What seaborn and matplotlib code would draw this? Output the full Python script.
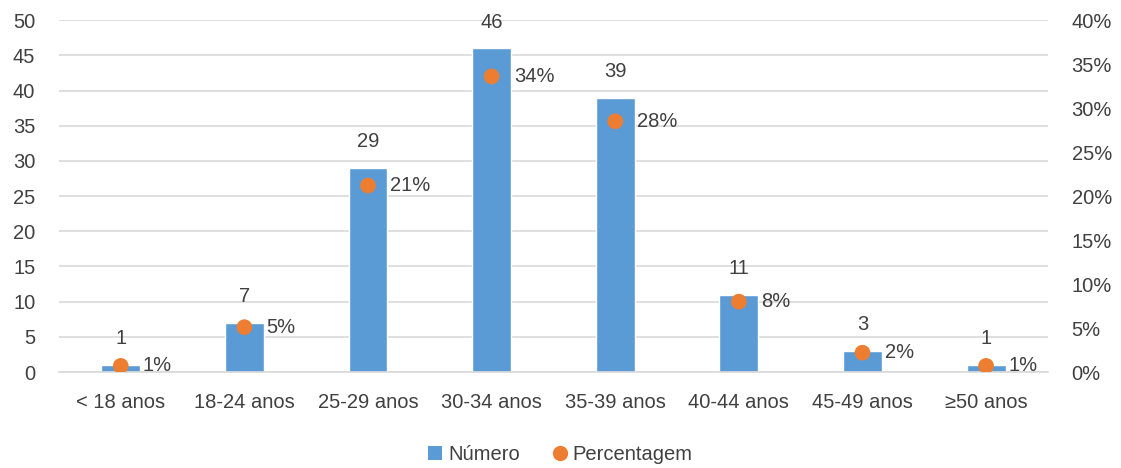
import matplotlib
matplotlib.use("Agg")
import matplotlib.pyplot as plt
import seaborn as sns
import pandas as pd
from matplotlib.lines import Line2D
from matplotlib.patches import Patch

categories = ["< 18 anos", "18-24 anos", "25-29 anos", "30-34 anos", "35-39 anos", "40-44 anos", "45-49 anos", "≥50 anos"]
numero = [1, 7, 29, 46, 39, 11, 3, 1]
percentagem = [0.7, 5.1, 21.2, 33.6, 28.5, 8.0, 2.2, 0.7]
pct_labels = ["1%", "5%", "21%", "34%", "28%", "8%", "2%", "1%"]

sns.set_theme(style="white")
plt.rcParams['font.family'] = ['Liberation Sans', 'DejaVu Sans']

df = pd.DataFrame({"cat": categories, "num": numero, "pct": percentagem})

BLUE = "#5B9BD5"
ORANGE = "#ED7D31"
TXT = "#404040"
FS = 14.5

fig = plt.figure(figsize=(11.21, 4.68), dpi=100)
ax = fig.add_axes([0.0526, 0.205, 0.8822, 0.752])
sns.barplot(data=df, x="cat", y="num", color=BLUE, width=0.315, saturation=1, ax=ax, zorder=2)
ax.set_ylim(0, 50)
ax.set_yticks(range(0, 51, 5))
ax.set_xlim(-0.5, len(categories) - 0.5)
ax.yaxis.grid(True, color="#D9D9D9", linewidth=1.2, zorder=0)
ax.set_axisbelow(True)
for s in ["top", "right", "left"]:
    ax.spines[s].set_visible(False)
ax.spines["bottom"].set_color("#D9D9D9")
ax.spines["bottom"].set_linewidth(1.2)
ax.set_xlabel("")
ax.set_ylabel("")
ax.tick_params(axis="both", length=0, labelsize=FS, colors=TXT)
ax.tick_params(axis="y", pad=17)
ax.tick_params(axis="x", pad=15)

for i, v in enumerate(numero):
    ax.annotate(str(v), (i, v), xytext=(0, 12), textcoords="offset points",
                ha="center", va="bottom", fontsize=FS, color=TXT)

ax2 = ax.twinx()
sns.scatterplot(x=list(range(len(categories))), y=percentagem, color=ORANGE, s=128,
                edgecolor="none", ax=ax2, zorder=3)
ax2.set_ylim(0, 40)
ax2.set_yticks(range(0, 41, 5))
ax2.set_yticklabels([f"{t}%" for t in range(0, 41, 5)])
ax2.set_xlim(-0.5, len(categories) - 0.5)
for s in ["top", "right", "left", "bottom"]:
    ax2.spines[s].set_visible(False)
ax2.tick_params(axis="y", length=0, labelsize=FS, colors=TXT, pad=17)
ax2.grid(False)

for i, (v, lab) in enumerate(zip(percentagem, pct_labels)):
    ax2.annotate(lab, (i, v), xytext=(16, 0), textcoords="offset points",
                 ha="left", va="center", fontsize=FS, color=TXT)

handles = [Patch(facecolor=BLUE, edgecolor="none"),
           Line2D([], [], marker="o", linestyle="none", markerfacecolor=ORANGE,
                  markeredgecolor="none", markersize=11)]
fig.legend(handles, ["Número", "Percentagem"], loc="center", bbox_to_anchor=(0.5, 0.028),
           ncol=2, frameon=False, fontsize=FS, labelcolor=TXT, handlelength=0.7,
           handleheight=0.7, handletextpad=0.3, columnspacing=1.6)

fig.savefig("out.png", dpi=100)
